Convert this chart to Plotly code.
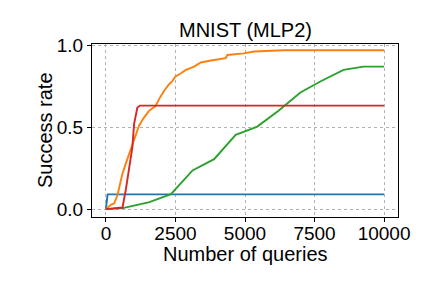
import plotly.graph_objects as go

# Blue series
blue_x = [0, 60, 10000]
blue_y = [0, 0.09, 0.09]

# Orange series
orange_x = [0, 179, 298, 417, 512, 596, 714, 833, 952, 1071, 1190, 1369, 1548, 1786, 1905,
            2083, 2262, 2381, 2494, 2696, 2875, 3173, 3412, 3770, 4307, 4366, 4963, 5321, 6394, 10000]
orange_y = [0, 0.026, 0.036, 0.086, 0.157, 0.217, 0.278, 0.338, 0.388, 0.459, 0.509, 0.559, 0.6, 0.629, 0.67,
            0.72, 0.761, 0.78, 0.809, 0.829, 0.85, 0.87, 0.895, 0.907, 0.921, 0.941, 0.951, 0.962, 0.97, 0.97]

# Green series
green_x = [0, 608, 1563, 2338, 3114, 3889, 4665, 5440, 6216, 6991, 7707, 8542, 9258, 10000]
green_y = [0, 0.006, 0.043, 0.091, 0.236, 0.305, 0.453, 0.504, 0.602, 0.712, 0.779, 0.85, 0.87, 0.87]

# Red series
red_x = [0, 300, 596, 714, 833, 952, 1012, 1071, 1131, 1226, 10000]
red_y = [0, 0.005, 0.01, 0.117, 0.237, 0.378, 0.519, 0.58, 0.62, 0.632, 0.632]

x_ticks = [0, 2500, 5000, 7500, 10000]
y_ticks = [0.0, 0.5, 1.0]
y_tick_text = ["0.0", "0.5", "1.0"]

title_text = "MNIST (MLP2)"
x_title = "Number of queries"
y_title = "Success rate"

fig = go.Figure()
for xs, ys, c in [(blue_x, blue_y, "#1f77b4"), (orange_x, orange_y, "#ff7f0e"),
                  (green_x, green_y, "#2ca02c"), (red_x, red_y, "#d62728")]:
    fig.add_trace(go.Scatter(x=xs, y=ys, mode="lines", line=dict(color=c, width=1.9),
                             showlegend=False, hoverinfo="skip"))

font_family = "Liberation Sans, Arial, sans-serif"
# page body has an 8px default margin, so the figure is 8px smaller and shifted
fig.update_layout(
    width=424, height=280,
    margin=dict(l=84, r=34, t=36, b=71, autoexpand=False),
    paper_bgcolor="white", plot_bgcolor="white",
    font=dict(family=font_family, color="black", size=19),
    showlegend=False,
    annotations=[
        dict(text=title_text, xref="paper", yref="paper", x=0.5, y=1.081,
             xanchor="center", yanchor="middle", showarrow=False,
             font=dict(size=20, family=font_family, color="black")),
        dict(text=x_title, xref="paper", yref="paper", x=0.5, y=-0.214,
             xanchor="center", yanchor="middle", showarrow=False,
             font=dict(size=20, family=font_family, color="black")),
        dict(text=y_title, xref="paper", yref="paper", x=-0.155, y=0.5,
             xanchor="center", yanchor="middle", showarrow=False, textangle=-90,
             font=dict(size=20, family=font_family, color="black")),
    ],
)
fig.update_xaxes(
    range=[-500, 10500], tickvals=x_ticks, ticktext=[str(v) for v in x_ticks],
    showline=True, linecolor="black", linewidth=1, mirror=True,
    ticks="outside", ticklen=4, tickcolor="black",
    showgrid=True, gridcolor="#b0b0b0", griddash="dot", gridwidth=1,
    zeroline=False, tickfont=dict(size=19), automargin=False, ticklabelstandoff=-5,
)
fig.update_yaxes(
    range=[-0.048, 1.008], tickvals=y_ticks, ticktext=y_tick_text,
    showline=True, linecolor="black", linewidth=1, mirror=True,
    ticks="outside", ticklen=4, tickcolor="black",
    showgrid=True, gridcolor="#b0b0b0", griddash="dot", gridwidth=1,
    zeroline=False, tickfont=dict(size=19), automargin=False,
)
fig.write_html("out.html")
